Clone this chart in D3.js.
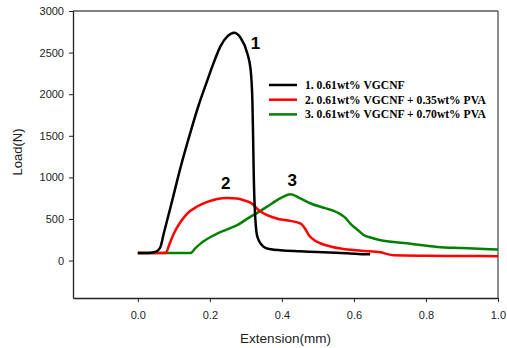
<!DOCTYPE html>
<html>
<head>
<meta charset="utf-8">
<script src="https://cdn.jsdelivr.net/npm/d3@7"></script>
<style>
  body { margin: 0; background: #fff; }
  svg { display: block; }
</style>
</head>
<body>
<svg id="chart" width="507" height="348"></svg>
<script>
// extension (mm) / load (N)
let ext1  = [0, 0.03, 0.045, 0.055, 0.063, 0.072, 0.091, 0.119, 0.146, 0.169, 0.19, 0.21, 0.23, 0.25, 0.267, 0.285, 0.304, 0.313, 0.318, 0.32, 0.322, 0.325, 0.332, 0.35, 0.37, 0.396, 0.45, 0.498, 0.58, 0.637, 0.645]
let load1 = [90, 92, 100, 120, 165, 325, 645, 1126, 1540, 1870, 2130, 2370, 2580, 2700, 2740, 2680, 2490, 2300, 1930, 1500, 1000, 600, 284, 164, 135, 124, 112, 103, 88, 76, 75]

let ext2  = [0, 0.077, 0.088, 0.1, 0.118, 0.137, 0.165, 0.193, 0.22, 0.248, 0.275, 0.294, 0.315, 0.336, 0.359, 0.39, 0.424, 0.452, 0.465, 0.475, 0.49, 0.508, 0.535, 0.563, 0.62, 0.674, 0.69, 0.71, 0.8, 0.9, 1.0]
let load2 = [90, 91, 200, 325, 460, 565, 650, 705, 740, 753, 745, 725, 690, 605, 545, 500, 477, 445, 380, 304, 245, 205, 170, 144, 118, 100, 80, 64, 58, 55, 52]

let ext3  = [0, 0.146, 0.16, 0.174, 0.211, 0.245, 0.276, 0.31, 0.336, 0.37, 0.4, 0.424, 0.45, 0.48, 0.52, 0.554, 0.575, 0.59, 0.61, 0.628, 0.646, 0.674, 0.739, 0.832, 0.9, 1.0]
let load3 = [90, 91, 150, 204, 304, 370, 425, 520, 585, 680, 760, 798, 750, 686, 630, 578, 520, 445, 370, 304, 277, 244, 212, 164, 150, 132]

let seriesNames = ["1. 0.61wt% VGCNF", "2. 0.61wt% VGCNF + 0.35wt% PVA", "3. 0.61wt% VGCNF + 0.70wt% PVA"]
let colors = ["#000000", "#ff0000", "#008000"]
let xTicks = [0, 0.2, 0.4, 0.6, 0.8, 1.0]
let yTicks = [0, 500, 1000, 1500, 2000, 2500, 3000]
let peakLabels = ["1", "2", "3"]
let peakPos = [[0.327, 2540], [0.244, 860], [0.429, 895]]

let margin = { top: 11, right: 9, bottom: 50, left: 73 }
let width = 507 - margin.left - margin.right
let height = 348 - margin.top - margin.bottom

let svg = d3.select('#chart')
let g = svg.append('g').attr("transform", "translate(" + margin.left + "," + margin.top + ")")

let x = d3.scaleLinear().domain([-0.18, 1.0]).range([0, width])
let y = d3.scaleLinear().domain([-450, 3000]).range([height, 0])

let xAxis = g.append("g")
    .attr("transform", "translate(0," + height + ")")
    .call(d3.axisBottom(x).tickValues(xTicks).tickFormat(d3.format(".1f")).tickSize(4).tickSizeOuter(0))
let yAxis = g.append("g")
    .call(d3.axisLeft(y).tickValues(yTicks).tickFormat(d3.format("d")).tickSize(4).tickSizeOuter(0))

for (let ax of [xAxis, yAxis]) {
    ax.select(".domain").attr("stroke", "#222").attr("stroke-width", 1.3)
    ax.selectAll(".tick line").attr("stroke", "#222")
    ax.selectAll(".tick text")
        .style("font-family", "'Liberation Sans', Arial, sans-serif")
        .style("font-size", "11px")
        .attr("fill", "#222")
}
xAxis.selectAll(".tick text").attr("dy", "1.25em")
yAxis.selectAll(".tick text").attr("x", -9)

// box: top and right
g.append("line").attr("x1", 0).attr("x2", width).attr("y1", 0).attr("y2", 0).attr("stroke", "#000").attr("stroke-width", 1.2)
g.append("line").attr("x1", width).attr("x2", width).attr("y1", 0).attr("y2", height).attr("stroke", "#444").attr("stroke-width", 1.2)

let line = d3.line().x(d => x(d[0])).y(d => y(d[1])).curve(d3.curveMonotoneX)
let allSeries = [d3.zip(ext1, load1), d3.zip(ext2, load2), d3.zip(ext3, load3)]

// draw green first, black on top like the original
for (let i = 2; i >= 0; i--) {
    g.append("path")
        .datum(allSeries[i])
        .attr("d", line)
        .attr("fill", "none")
        .attr("stroke", colors[i])
        .attr("stroke-width", 2.5)
        .attr("stroke-linejoin", "round")
}

for (let i = 0; i < peakLabels.length; i++) {
    g.append("text")
        .attr("x", x(peakPos[i][0]))
        .attr("y", y(peakPos[i][1]))
        .attr("text-anchor", "middle")
        .style("font-family", "'Liberation Sans', Arial, sans-serif")
        .style("font-size", "17px")
        .style("font-weight", "bold")
        .text(peakLabels[i])
}

// legend
for (let i = 0; i < seriesNames.length; i++) {
    let ly = 85 + i * 14.7
    svg.append("line")
        .attr("x1", 269).attr("x2", 297)
        .attr("y1", ly).attr("y2", ly)
        .attr("stroke", colors[i])
        .attr("stroke-width", 2.5)
    svg.append("text")
        .attr("x", 305).attr("y", ly)
        .attr("dy", "0.35em")
        .style("font-family", "'Liberation Serif', 'Times New Roman', serif")
        .style("font-size", "11.6px")
        .style("font-weight", "bold")
        .text(seriesNames[i])
}

svg.append("text")
    .attr("x", margin.left + x(0.41))
    .attr("y", 343)
    .attr("text-anchor", "middle")
    .style("font-family", "'Liberation Sans', Arial, sans-serif")
    .style("font-size", "13.5px")
    .attr("fill", "#222")
    .text("Extension(mm)")

svg.append("text")
    .attr("transform", "translate(22,152) rotate(-90)")
    .attr("text-anchor", "middle")
    .style("font-family", "'Liberation Sans', Arial, sans-serif")
    .style("font-size", "13px")
    .attr("fill", "#222")
    .text("Load(N)")
</script>
</body>
</html>
